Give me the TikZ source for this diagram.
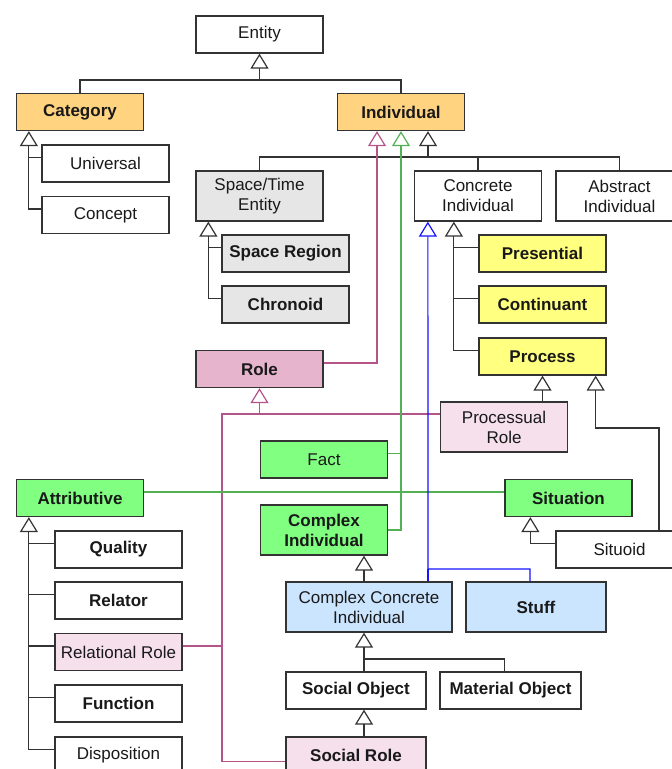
\documentclass[tikz,border=0pt]{standalone}
\usepackage{fontspec}
\setmainfont{Liberation Sans}
\usetikzlibrary{arrows.meta}

\definecolor{toporange}{RGB}{255,211,128}
\definecolor{stgray}{RGB}{230,230,230}
\definecolor{ciyellow}{RGB}{255,255,128}
\definecolor{rolepink}{RGB}{230,180,205}
\definecolor{palepink}{RGB}{245,224,235}
\definecolor{indgreen}{RGB}{128,255,128}
\definecolor{ccblue}{RGB}{204,229,255}
\definecolor{pinkline}{RGB}{180,84,136}
\definecolor{greenline}{RGB}{84,176,84}
\definecolor{blueline}{RGB}{20,20,255}

\begin{document}
\begin{tikzpicture}[x=0.5pt,y=-0.5pt]
    \tikzstyle{every node}=[font={\fontsize{8.5}{10}\selectfont}, text=black!90]
    \tikzstyle{box}=[draw=black!80, line width=0.65pt, fill=white, minimum width=63.5pt, minimum height=18.5pt, inner sep=0pt, align=center]
    \tikzstyle{tall}=[minimum height=25pt]
    \tikzstyle{strong}=[font={\fontsize{8.5}{10}\selectfont\bfseries}]
    \tikzstyle{link}=[draw=black!80, line width=0.6pt]
    \tikzstyle{gen}=[link, -{Triangle[open, width=9pt, length=7.5pt]}]
    \useasboundingbox (0,0) rectangle (672,769);

    % top of the tree
    \node[box] (entity) at (259.5,34.5) {Entity};
    \node[box, strong, fill=toporange] (category) at (80,112) {Category};
    \node[box, strong, fill=toporange] (individual) at (401,112) {Individual};
    \node[box] (universal) at (105.5,163.5) {Universal};
    \node[box] (concept) at (105.5,215) {Concept};

    % individuals
    \node[box, tall, fill=stgray] (spacetime) at (259.5,196) {Space/Time\\Entity};
    \node[box, tall] (concrete) at (478,196) {Concrete\\Individual};
    \node[box, tall] (abstract) at (619.5,196) {Abstract\\Individual};
    \node[box, strong, fill=stgray] (spaceregion) at (285.5,253.5) {Space Region};
    \node[box, strong, fill=stgray] (chronoid) at (285.5,304.5) {Chronoid};
    \node[box, strong, fill=ciyellow] (presential) at (542.5,253.5) {Presential};
    \node[box, strong, fill=ciyellow] (continuant) at (542.5,304.5) {Continuant};
    \node[box, strong, fill=ciyellow] (process) at (542.5,356.5) {Process};

    % roles and complex individuals
    \node[box, strong, fill=rolepink] (role) at (259.5,369) {Role};
    \node[box, tall, fill=palepink] (procrole) at (504,427) {Processual\\Role};
    \node[box, fill=indgreen] (fact) at (324,459.5) {Fact};
    \node[box, strong, fill=indgreen] (attributive) at (80,498) {Attributive};
    \node[box, strong, fill=indgreen] (situation) at (568.5,498) {Situation};
    \node[box, strong, tall, fill=indgreen] (complex) at (324,530) {Complex\\Individual};
    \node[box] (situoid) at (619.5,549.5) {Situoid};
    \node[box, tall, fill=ccblue, minimum width=83pt] (cci) at (369,607) {Complex Concrete\\Individual};
    \node[box, strong, tall, fill=ccblue, minimum width=70pt] (stuff) at (536,607) {Stuff};

    % attributives
    \node[box, strong] (quality) at (118.5,549.5) {Quality};
    \node[box, strong] (relator) at (118.5,600.5) {Relator};
    \node[box, fill=palepink] (relrole) at (118.5,652) {Relational Role};
    \node[box, strong] (function) at (118.5,703.5) {Function};
    \node[box] (disposition) at (118.5,755.5) {Disposition};

    % objects
    \node[box, strong, minimum width=70pt] (socialobj) at (356,690.5) {Social Object};
    \node[box, strong, minimum width=70.5pt] (materialobj) at (510.5,690.5) {Material Object};
    \node[box, strong, fill=palepink, minimum width=70pt] (socialrole) at (356,755.5) {Social Role};

    % junctions
    \coordinate (jentity) at (259.5,80);
    \coordinate (jindiv) at (428,157);
    \coordinate (jblue) at (428,569);
    \coordinate (jrole) at (259.5,414);
    \coordinate (rolebus) at (222,414);
    \coordinate (jsituoid) at (659,428);
    \coordinate (column) at (364,0);
    \coordinate (jcci) at (364,659);

    % black generalisations
    \draw[link] (category.north) |- (individual.north |- jentity) -- (individual.north);
    \draw[gen] (jentity) -- (entity.south);
    \draw[gen] ([yshift=3pt]concept.west) -| ([xshift=6.5pt]category.south west);
    \draw[link] ([yshift=3pt]universal.west) -- ++(-13,0);
    \draw[link] (spacetime.north) |- (abstract.north |- jindiv) -- (abstract.north);
    \draw[link] (concrete.north) -- (concrete.north |- jindiv);
    \draw[gen] (jindiv) -- (jindiv |- individual.south);
    \draw[gen] ([yshift=3pt]chronoid.west) -| ([xshift=6.5pt]spacetime.south west);
    \draw[link] ([yshift=3pt]spaceregion.west) -- ++(-13,0);
    \draw[gen] ([yshift=3pt]process.west) -| ([xshift=20pt]concrete.south west);
    \draw[link] ([yshift=3pt]presential.west) -- ++(-25,0);
    \draw[link] ([yshift=3pt]continuant.west) -- ++(-25,0);
    \draw[gen] (procrole.north -| process.south) -- (process.south);
    \draw[gen] (situoid.north -| jsituoid) -- (jsituoid) -| ([xshift=-5.5pt]process.south east);
    \draw[gen] ([yshift=3pt]situoid.west) -| ([xshift=13pt]situation.south west);
    \draw[gen] ([yshift=3pt]disposition.west) -| ([xshift=6.5pt]attributive.south west);
    \draw[link] ([yshift=3pt]quality.west) -- ++(-26,0);
    \draw[link] ([yshift=3pt]relator.west) -- ++(-26,0);
    \draw[link] ([yshift=3pt]relrole.west) -- ++(-26,0);
    \draw[link] ([yshift=3pt]function.west) -- ++(-26,0);
    \draw[gen] (column |- cci.north) -- (column |- complex.south);
    \draw[gen] (jcci) -- (column |- cci.south);
    \draw[link] (socialobj.north -| jcci) -- (jcci) -| ([xshift=-3pt]materialobj.north);
    \draw[gen] (column |- socialrole.north) -- (column |- socialobj.south);

    % coloured generalisations
    \draw[gen, draw=pinkline] ([yshift=3pt]role.east) -| ([xshift=-12pt]individual.south);
    \draw[gen, draw=pinkline] (jrole) -- (role.south);
    \draw[link, draw=pinkline] (procrole.west |- rolebus) -- (rolebus) |- ([yshift=-3pt]socialrole.west);
    \draw[link, draw=pinkline] ([yshift=3pt]relrole.east) -- ++(40,0);
    \draw[gen, draw=greenline] (complex.east) -| (individual.south);
    \draw[link, draw=greenline] ([yshift=3pt]fact.east) -- ++(14,0);
    \draw[link, draw=greenline] ([yshift=3pt]attributive.east) -- ([yshift=3pt]situation.west);
    \draw[gen, draw=blueline] ([xshift=-3pt]stuff.north) |- (jblue) -- ([xshift=7pt]concrete.south west);
    \draw[link, draw=blueline] (jblue) -- (jblue |- cci.north);
\end{tikzpicture}
\end{document}
